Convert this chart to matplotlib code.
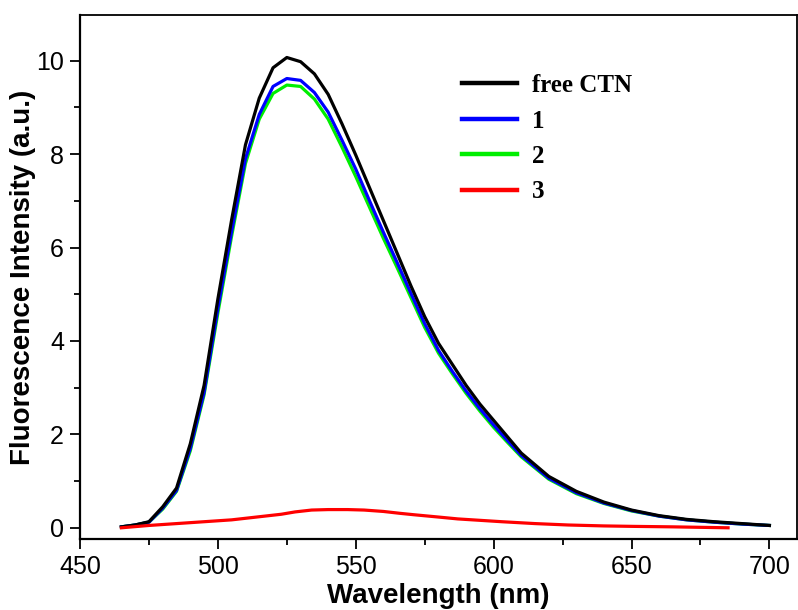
import matplotlib
matplotlib.use("Agg")
import matplotlib.pyplot as plt
from matplotlib.ticker import MultipleLocator

wl = [465, 470, 475, 480, 485, 490, 495, 500, 505, 510, 515, 520, 525, 530, 535,
      540, 545, 550, 555, 560, 565, 570, 575, 580, 585, 590, 595, 600, 605, 610,
      620, 630, 640, 650, 660, 670, 680, 690, 700]
free_ctn = [0.02, 0.06, 0.13, 0.45, 0.85, 1.8, 3.05, 4.9, 6.6, 8.2, 9.2, 9.85, 10.07,
            9.98, 9.72, 9.28, 8.65, 7.98, 7.28, 6.58, 5.88, 5.18, 4.52, 3.95, 3.5, 3.05,
            2.65, 2.3, 1.95, 1.6, 1.1, 0.78, 0.55, 0.38, 0.26, 0.18, 0.13, 0.09, 0.05]
s1 = [0.02, 0.06, 0.12, 0.42, 0.8, 1.7, 2.9, 4.7, 6.35, 7.9, 8.85, 9.45, 9.62, 9.58,
      9.32, 8.9, 8.3, 7.68, 7.0, 6.33, 5.68, 5.02, 4.37, 3.8, 3.35, 2.93, 2.55, 2.2,
      1.87, 1.55, 1.06, 0.75, 0.53, 0.37, 0.25, 0.17, 0.12, 0.08, 0.05]
s2 = [0.02, 0.06, 0.12, 0.4, 0.78, 1.65, 2.85, 4.6, 6.25, 7.8, 8.75, 9.3, 9.48, 9.45,
      9.18, 8.75, 8.15, 7.52, 6.86, 6.2, 5.57, 4.93, 4.29, 3.74, 3.3, 2.88, 2.5, 2.15,
      1.83, 1.52, 1.04, 0.73, 0.52, 0.36, 0.25, 0.17, 0.12, 0.08, 0.05]
wl3 = [465, 475, 485, 495, 505, 511, 517, 523, 528, 534, 540, 547, 553, 560, 566,
       571, 580, 587, 595, 603, 615, 627, 640, 651, 665, 675, 685]
s3 = [0.0, 0.05, 0.09, 0.13, 0.17, 0.21, 0.25, 0.29, 0.34, 0.38, 0.39, 0.39, 0.38,
      0.35, 0.31, 0.28, 0.23, 0.19, 0.16, 0.13, 0.09, 0.06, 0.04, 0.03, 0.02, 0.01, 0.0]

labels = ["free CTN", "1", "2", "3"]
colors = ["#000000", "#0000ff", "#00ee00", "#ff0000"]

fig = plt.figure(figsize=(7.98, 6.10), dpi=100)
ax = fig.add_axes([80 / 798, 71 / 610, 717 / 798, 524 / 610])

lw = 2.3
l2, = ax.plot(wl, s2, color=colors[2], lw=lw, label=labels[2], zorder=2)
l1, = ax.plot(wl, s1, color=colors[1], lw=lw, label=labels[1], zorder=3)
l0, = ax.plot(wl, free_ctn, color=colors[0], lw=lw, label=labels[0], zorder=4)
l3, = ax.plot(wl3, s3, color=colors[3], lw=lw, label=labels[3], zorder=5)

ax.set_xlim(450, 710)
ax.set_ylim(-0.24, 10.98)
ax.xaxis.set_major_locator(MultipleLocator(50))
ax.xaxis.set_minor_locator(MultipleLocator(25))
ax.yaxis.set_major_locator(MultipleLocator(2))
ax.yaxis.set_minor_locator(MultipleLocator(1))
ax.tick_params(which="major", direction="out", length=7.5, width=1.3,
               labelsize=18, pad=4)
ax.tick_params(which="minor", direction="out", length=4, width=1.3)
ax.tick_params(top=False, right=False)
for lab in ax.get_xticklabels() + ax.get_yticklabels():
    lab.set_fontfamily("Liberation Sans")
for sp in ["left", "bottom"]:
    ax.spines[sp].set_linewidth(1.6)
for sp in ["top", "right"]:
    ax.spines[sp].set_linewidth(1.3)

ax.set_xlabel("Wavelength (nm)", fontsize=20, fontweight="bold",
              fontfamily="Liberation Sans", labelpad=3)
ax.set_ylabel("Fluorescence Intensity (a.u.)", fontsize=20, fontweight="bold",
              fontfamily="Liberation Sans", labelpad=0)

leg = ax.legend(handles=[l0, l1, l2, l3], labels=labels, loc="upper left",
                bbox_to_anchor=((462 - 80) / 717, (539 - 74) / 524),
                frameon=False, borderpad=0, borderaxespad=0,
                handlelength=2.2, handletextpad=0.6, labelspacing=0.5,
                prop={"family": "Liberation Serif", "weight": "bold", "size": 18})
for h in leg.legend_handles:
    h.set_linewidth(3.2)

fig.savefig("out.png", dpi=100)
